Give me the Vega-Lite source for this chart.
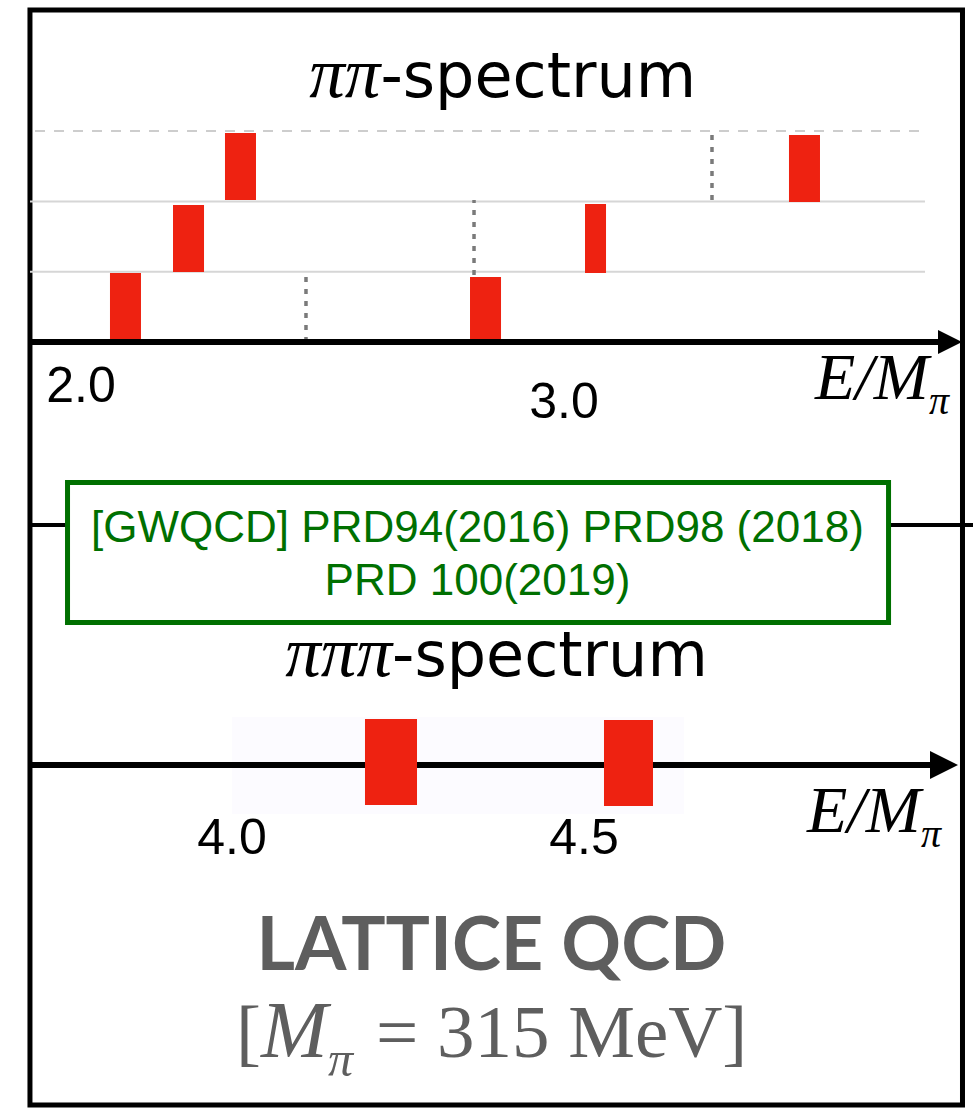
{
  "$schema": "https://vega.github.io/schema/vega-lite/v6.json",
  "width": 973,
  "height": 1109,
  "autosize": {"type": "none"},
  "padding": 0,
  "background": "white",
  "config": {"view": {"stroke": null}, "axis": {"disable": true}},
  "datasets": {
    "pipi_levels": [
      {"E": 2.0600, "E2": 2.1242, "r": 0.0, "r2": 0.981},
      {"E": 2.1905, "E2": 2.2547, "r": 0.996, "r2": 1.949},
      {"E": 2.2981, "E2": 2.3623, "r": 2.020, "r2": 2.973},
      {"E": 2.8054, "E2": 2.8696, "r": 0.0, "r2": 0.925},
      {"E": 3.0435, "E2": 3.0870, "r": 0.981, "r2": 1.963},
      {"E": 3.4658, "E2": 3.5300, "r": 1.991, "r2": 2.945}
    ],
    "pipi_thresholds": [
      {"E": 2.4658, "r": 0.0, "r2": 0.996},
      {"E": 2.8137, "r": 0.953, "r2": 2.020},
      {"E": 3.3064, "r": 2.020, "r2": 3.0}
    ],
    "pipi_rows": [{"r": 1}, {"r": 2}],
    "pipi_top": [{"r": 3}],
    "pipi_ticks": [
      {"E": 2.0, "r": -0.853, "label": "2.0"},
      {"E": 3.0, "r": -1.081, "label": "3.0"}
    ],
    "pipipi_levels": [
      {"E": 4.1889, "E2": 4.2628, "u": -0.569, "u2": 0.654},
      {"E": 4.5284, "E2": 4.5980, "u": -0.583, "u2": 0.640}
    ],
    "pipipi_ticks": [
      {"E": 4.0, "u": -1.266, "label": "4.0"},
      {"E": 4.5, "u": -1.266, "label": "4.5"}
    ]
  },
  "layer": [
    {
      "layer": [
        {
          "data": {"values": [{"fx": 0.0308, "fx2": 0.9892, "fy": 0.0090, "fy2": 0.9964}]},
          "mark": {"type": "rect", "filled": false, "stroke": "#000000", "strokeWidth": 5},
          "encoding": {
            "x": {"field": "fx", "type": "quantitative", "scale": {"domain": [0, 1], "nice": false, "zero": false}},
            "x2": {"field": "fx2"},
            "y": {"field": "fy", "type": "quantitative", "scale": {"domain": [0, 1], "nice": false, "zero": false, "reverse": true}},
            "y2": {"field": "fy2"}
          }
        },
        {
          "data": {"values": [
            {"fx": 0.0308, "fx2": 0.0694, "fy": 0.4734},
            {"fx": 0.9132, "fx2": 1.0, "fy": 0.4734}
          ]},
          "mark": {"type": "rule", "color": "#000000", "strokeWidth": 4},
          "encoding": {
            "x": {"field": "fx", "type": "quantitative", "scale": {"domain": [0, 1], "nice": false, "zero": false}},
            "x2": {"field": "fx2"},
            "y": {"field": "fy", "type": "quantitative", "scale": {"domain": [0, 1], "nice": false, "zero": false, "reverse": true}}
          }
        },
        {
          "data": {"values": [{"fx": 0.0694, "fx2": 0.9132, "fy": 0.4351, "fy2": 0.5613}]},
          "mark": {"type": "rect", "filled": false, "stroke": "#007000", "strokeWidth": 5},
          "encoding": {
            "x": {"field": "fx", "type": "quantitative", "scale": {"domain": [0, 1], "nice": false, "zero": false}},
            "x2": {"field": "fx2"},
            "y": {"field": "fy", "type": "quantitative", "scale": {"domain": [0, 1], "nice": false, "zero": false, "reverse": true}},
            "y2": {"field": "fy2"}
          }
        },
        {
          "data": {"values": [
            {"fx": 0.4907, "fy": 0.4887, "line": "[GWQCD] PRD94(2016) PRD98 (2018)"},
            {"fx": 0.4907, "fy": 0.5365, "line": "PRD 100(2019)"}
          ]},
          "mark": {"type": "text", "font": "Liberation Sans", "fontSize": 44, "align": "center", "baseline": "alphabetic", "color": "#007000"},
          "encoding": {
            "x": {"field": "fx", "type": "quantitative", "scale": {"domain": [0, 1], "nice": false, "zero": false}},
            "y": {"field": "fy", "type": "quantitative", "scale": {"domain": [0, 1], "nice": false, "zero": false, "reverse": true}},
            "text": {"field": "line"}
          }
        },
        {
          "data": {"values": [
            {"fx": 0.3910, "fy": 0.0875, "part": "ππ"},
            {"fx": 0.4029, "fy": 0.6096, "part": "πππ"}
          ]},
          "mark": {"type": "text", "font": "Liberation Serif", "fontStyle": "italic", "fontSize": 71, "align": "right", "baseline": "alphabetic", "color": "#000000"},
          "encoding": {
            "x": {"field": "fx", "type": "quantitative", "scale": {"domain": [0, 1], "nice": false, "zero": false}},
            "y": {"field": "fy", "type": "quantitative", "scale": {"domain": [0, 1], "nice": false, "zero": false, "reverse": true}},
            "text": {"field": "part"}
          }
        },
        {
          "data": {"values": [
            {"fx": 0.3910, "fy": 0.0875, "part": "-spectrum"},
            {"fx": 0.4029, "fy": 0.6096, "part": "-spectrum"}
          ]},
          "mark": {"type": "text", "font": "DejaVu Sans", "fontSize": 62, "align": "left", "baseline": "alphabetic", "color": "#000000"},
          "encoding": {
            "x": {"field": "fx", "type": "quantitative", "scale": {"domain": [0, 1], "nice": false, "zero": false}},
            "y": {"field": "fy", "type": "quantitative", "scale": {"domain": [0, 1], "nice": false, "zero": false, "reverse": true}},
            "text": {"field": "part"}
          }
        },
        {
          "data": {"values": [
            {"fx": 0.8376, "fy": 0.3598, "part": "E/M"},
            {"fx": 0.8294, "fy": 0.7502, "part": "E/M"}
          ]},
          "mark": {"type": "text", "font": "Liberation Serif", "fontStyle": "italic", "fontSize": 66, "align": "left", "baseline": "alphabetic", "color": "#000000"},
          "encoding": {
            "x": {"field": "fx", "type": "quantitative", "scale": {"domain": [0, 1], "nice": false, "zero": false}},
            "y": {"field": "fy", "type": "quantitative", "scale": {"domain": [0, 1], "nice": false, "zero": false, "reverse": true}},
            "text": {"field": "part"}
          }
        },
        {
          "data": {"values": [
            {"fx": 0.9548, "fy": 0.3733, "part": "π"},
            {"fx": 0.9466, "fy": 0.7638, "part": "π"}
          ]},
          "mark": {"type": "text", "font": "Liberation Serif", "fontStyle": "italic", "fontSize": 40, "align": "left", "baseline": "alphabetic", "color": "#000000"},
          "encoding": {
            "x": {"field": "fx", "type": "quantitative", "scale": {"domain": [0, 1], "nice": false, "zero": false}},
            "y": {"field": "fy", "type": "quantitative", "scale": {"domain": [0, 1], "nice": false, "zero": false, "reverse": true}},
            "text": {"field": "part"}
          }
        },
        {
          "data": {"values": [{"fx": 0.5051, "fy": 0.8747, "part": "LATTICE QCD"}]},
          "mark": {"type": "text", "font": "Lato", "fontWeight": "bold", "fontSize": 74, "align": "center", "baseline": "alphabetic", "color": "#5e5e5e"},
          "encoding": {
            "x": {"field": "fx", "type": "quantitative", "scale": {"domain": [0, 1], "nice": false, "zero": false}},
            "y": {"field": "fy", "type": "quantitative", "scale": {"domain": [0, 1], "nice": false, "zero": false, "reverse": true}},
            "text": {"field": "part"}
          }
        },
        {
          "data": {"values": [
            {"fx": 0.2425, "fy": 0.9531, "part": "["},
            {"fx": 0.3864, "fy": 0.9531, "part": "="},
            {"fx": 0.4491, "fy": 0.9531, "part": "315 MeV]"}
          ]},
          "mark": {"type": "text", "font": "Liberation Serif", "fontSize": 75, "align": "left", "baseline": "alphabetic", "color": "#5e5e5e"},
          "encoding": {
            "x": {"field": "fx", "type": "quantitative", "scale": {"domain": [0, 1], "nice": false, "zero": false}},
            "y": {"field": "fy", "type": "quantitative", "scale": {"domain": [0, 1], "nice": false, "zero": false, "reverse": true}},
            "text": {"field": "part"}
          }
        },
        {
          "data": {"values": [{"fx": 0.2682, "fy": 0.9531, "part": "M"}]},
          "mark": {"type": "text", "font": "Liberation Serif", "fontStyle": "italic", "fontSize": 80, "align": "left", "baseline": "alphabetic", "color": "#5e5e5e"},
          "encoding": {
            "x": {"field": "fx", "type": "quantitative", "scale": {"domain": [0, 1], "nice": false, "zero": false}},
            "y": {"field": "fy", "type": "quantitative", "scale": {"domain": [0, 1], "nice": false, "zero": false, "reverse": true}},
            "text": {"field": "part"}
          }
        },
        {
          "data": {"values": [{"fx": 0.3371, "fy": 0.9702, "part": "π"}]},
          "mark": {"type": "text", "font": "Liberation Serif", "fontStyle": "italic", "fontSize": 50, "align": "left", "baseline": "alphabetic", "color": "#5e5e5e"},
          "encoding": {
            "x": {"field": "fx", "type": "quantitative", "scale": {"domain": [0, 1], "nice": false, "zero": false}},
            "y": {"field": "fy", "type": "quantitative", "scale": {"domain": [0, 1], "nice": false, "zero": false, "reverse": true}},
            "text": {"field": "part"}
          }
        }
      ]
    },
    {
      "layer": [
        {
          "data": {"name": "pipi_rows"},
          "mark": {"type": "rule", "color": "#d6d6d6", "strokeWidth": 2},
          "encoding": {
            "x": {"datum": 1.8944, "type": "quantitative", "scale": {"domain": [1.83230, 3.84679], "nice": false, "zero": false}},
            "x2": {"datum": 3.7474},
            "y": {"field": "r", "type": "quantitative", "scale": {"domain": [-10.9104, 4.8649], "nice": false, "zero": false}}
          }
        },
        {
          "data": {"name": "pipi_top"},
          "mark": {"type": "rule", "color": "#bdbdbd", "strokeWidth": 1.5, "strokeDash": [10, 9]},
          "encoding": {
            "x": {"datum": 1.9048, "type": "quantitative", "scale": {"domain": [1.83230, 3.84679], "nice": false, "zero": false}},
            "x2": {"datum": 3.7474},
            "y": {"field": "r", "type": "quantitative", "scale": {"domain": [-10.9104, 4.8649], "nice": false, "zero": false}}
          }
        },
        {
          "data": {"name": "pipi_thresholds"},
          "mark": {"type": "rule", "color": "#7a7a7a", "strokeWidth": 3.5, "strokeDash": [5, 7]},
          "encoding": {
            "x": {"field": "E", "type": "quantitative", "scale": {"domain": [1.83230, 3.84679], "nice": false, "zero": false}},
            "y": {"field": "r", "type": "quantitative", "scale": {"domain": [-10.9104, 4.8649], "nice": false, "zero": false}},
            "y2": {"field": "r2"}
          }
        },
        {
          "data": {"name": "pipi_levels"},
          "mark": {"type": "rect", "color": "#ee2211"},
          "encoding": {
            "x": {"field": "E", "type": "quantitative", "scale": {"domain": [1.83230, 3.84679], "nice": false, "zero": false}},
            "x2": {"field": "E2"},
            "y": {"field": "r", "type": "quantitative", "scale": {"domain": [-10.9104, 4.8649], "nice": false, "zero": false}},
            "y2": {"field": "r2"}
          }
        },
        {
          "data": {"values": [{"axis": "E/Mπ"}]},
          "mark": {"type": "rule", "color": "#000000", "strokeWidth": 6},
          "encoding": {
            "x": {"datum": 1.8944, "type": "quantitative", "scale": {"domain": [1.83230, 3.84679], "nice": false, "zero": false}},
            "x2": {"datum": 3.7992},
            "y": {"datum": 0, "type": "quantitative", "scale": {"domain": [-10.9104, 4.8649], "nice": false, "zero": false}}
          }
        },
        {
          "data": {"values": [{"axis": "E/Mπ"}]},
          "mark": {"type": "point", "shape": "M-1,-1L1,0L-1,1Z", "filled": true, "color": "#000000", "opacity": 1, "size": 576, "strokeWidth": 0},
          "encoding": {
            "x": {"datum": 3.7992, "type": "quantitative", "scale": {"domain": [1.83230, 3.84679], "nice": false, "zero": false}},
            "y": {"datum": 0, "type": "quantitative", "scale": {"domain": [-10.9104, 4.8649], "nice": false, "zero": false}}
          }
        },
        {
          "data": {"name": "pipi_ticks"},
          "mark": {"type": "text", "font": "Liberation Sans", "fontSize": 50, "align": "center", "baseline": "alphabetic", "color": "#000000"},
          "encoding": {
            "x": {"field": "E", "type": "quantitative", "scale": {"domain": [1.83230, 3.84679], "nice": false, "zero": false}},
            "y": {"field": "r", "type": "quantitative", "scale": {"domain": [-10.9104, 4.8649], "nice": false, "zero": false}},
            "text": {"field": "label"}
          }
        }
      ]
    },
    {
      "layer": [
        {
          "data": {"values": [{"window": "E/Mπ"}]},
          "mark": {"type": "rect", "color": "#fcfbff"},
          "encoding": {
            "x": {"datum": 4.0, "type": "quantitative", "scale": {"domain": [3.67045, 5.05256], "nice": false, "zero": false}},
            "x2": {"datum": 4.642},
            "y": {"datum": -0.697, "type": "quantitative", "scale": {"domain": [-4.8933, 10.8819], "nice": false, "zero": false}},
            "y2": {"datum": 0.683}
          }
        },
        {
          "data": {"values": [{"axis": "E/Mπ"}]},
          "mark": {"type": "rule", "color": "#000000", "strokeWidth": 6},
          "encoding": {
            "x": {"datum": 3.7131, "type": "quantitative", "scale": {"domain": [3.67045, 5.05256], "nice": false, "zero": false}},
            "x2": {"datum": 5.0114},
            "y": {"datum": 0, "type": "quantitative", "scale": {"domain": [-4.8933, 10.8819], "nice": false, "zero": false}}
          }
        },
        {
          "data": {"name": "pipipi_levels"},
          "mark": {"type": "rect", "color": "#ee2211"},
          "encoding": {
            "x": {"field": "E", "type": "quantitative", "scale": {"domain": [3.67045, 5.05256], "nice": false, "zero": false}},
            "x2": {"field": "E2"},
            "y": {"field": "u", "type": "quantitative", "scale": {"domain": [-4.8933, 10.8819], "nice": false, "zero": false}},
            "y2": {"field": "u2"}
          }
        },
        {
          "data": {"values": [{"axis": "E/Mπ"}]},
          "mark": {"type": "point", "shape": "M-1,-1L1,0L-1,1Z", "filled": true, "color": "#000000", "opacity": 1, "size": 784, "strokeWidth": 0},
          "encoding": {
            "x": {"datum": 5.0114, "type": "quantitative", "scale": {"domain": [3.67045, 5.05256], "nice": false, "zero": false}},
            "y": {"datum": 0, "type": "quantitative", "scale": {"domain": [-4.8933, 10.8819], "nice": false, "zero": false}}
          }
        },
        {
          "data": {"name": "pipipi_ticks"},
          "mark": {"type": "text", "font": "Liberation Sans", "fontSize": 50, "align": "center", "baseline": "alphabetic", "color": "#000000"},
          "encoding": {
            "x": {"field": "E", "type": "quantitative", "scale": {"domain": [3.67045, 5.05256], "nice": false, "zero": false}},
            "y": {"field": "u", "type": "quantitative", "scale": {"domain": [-4.8933, 10.8819], "nice": false, "zero": false}},
            "text": {"field": "label"}
          }
        }
      ]
    }
  ],
  "resolve": {"scale": {"x": "independent", "y": "independent"}}
}
